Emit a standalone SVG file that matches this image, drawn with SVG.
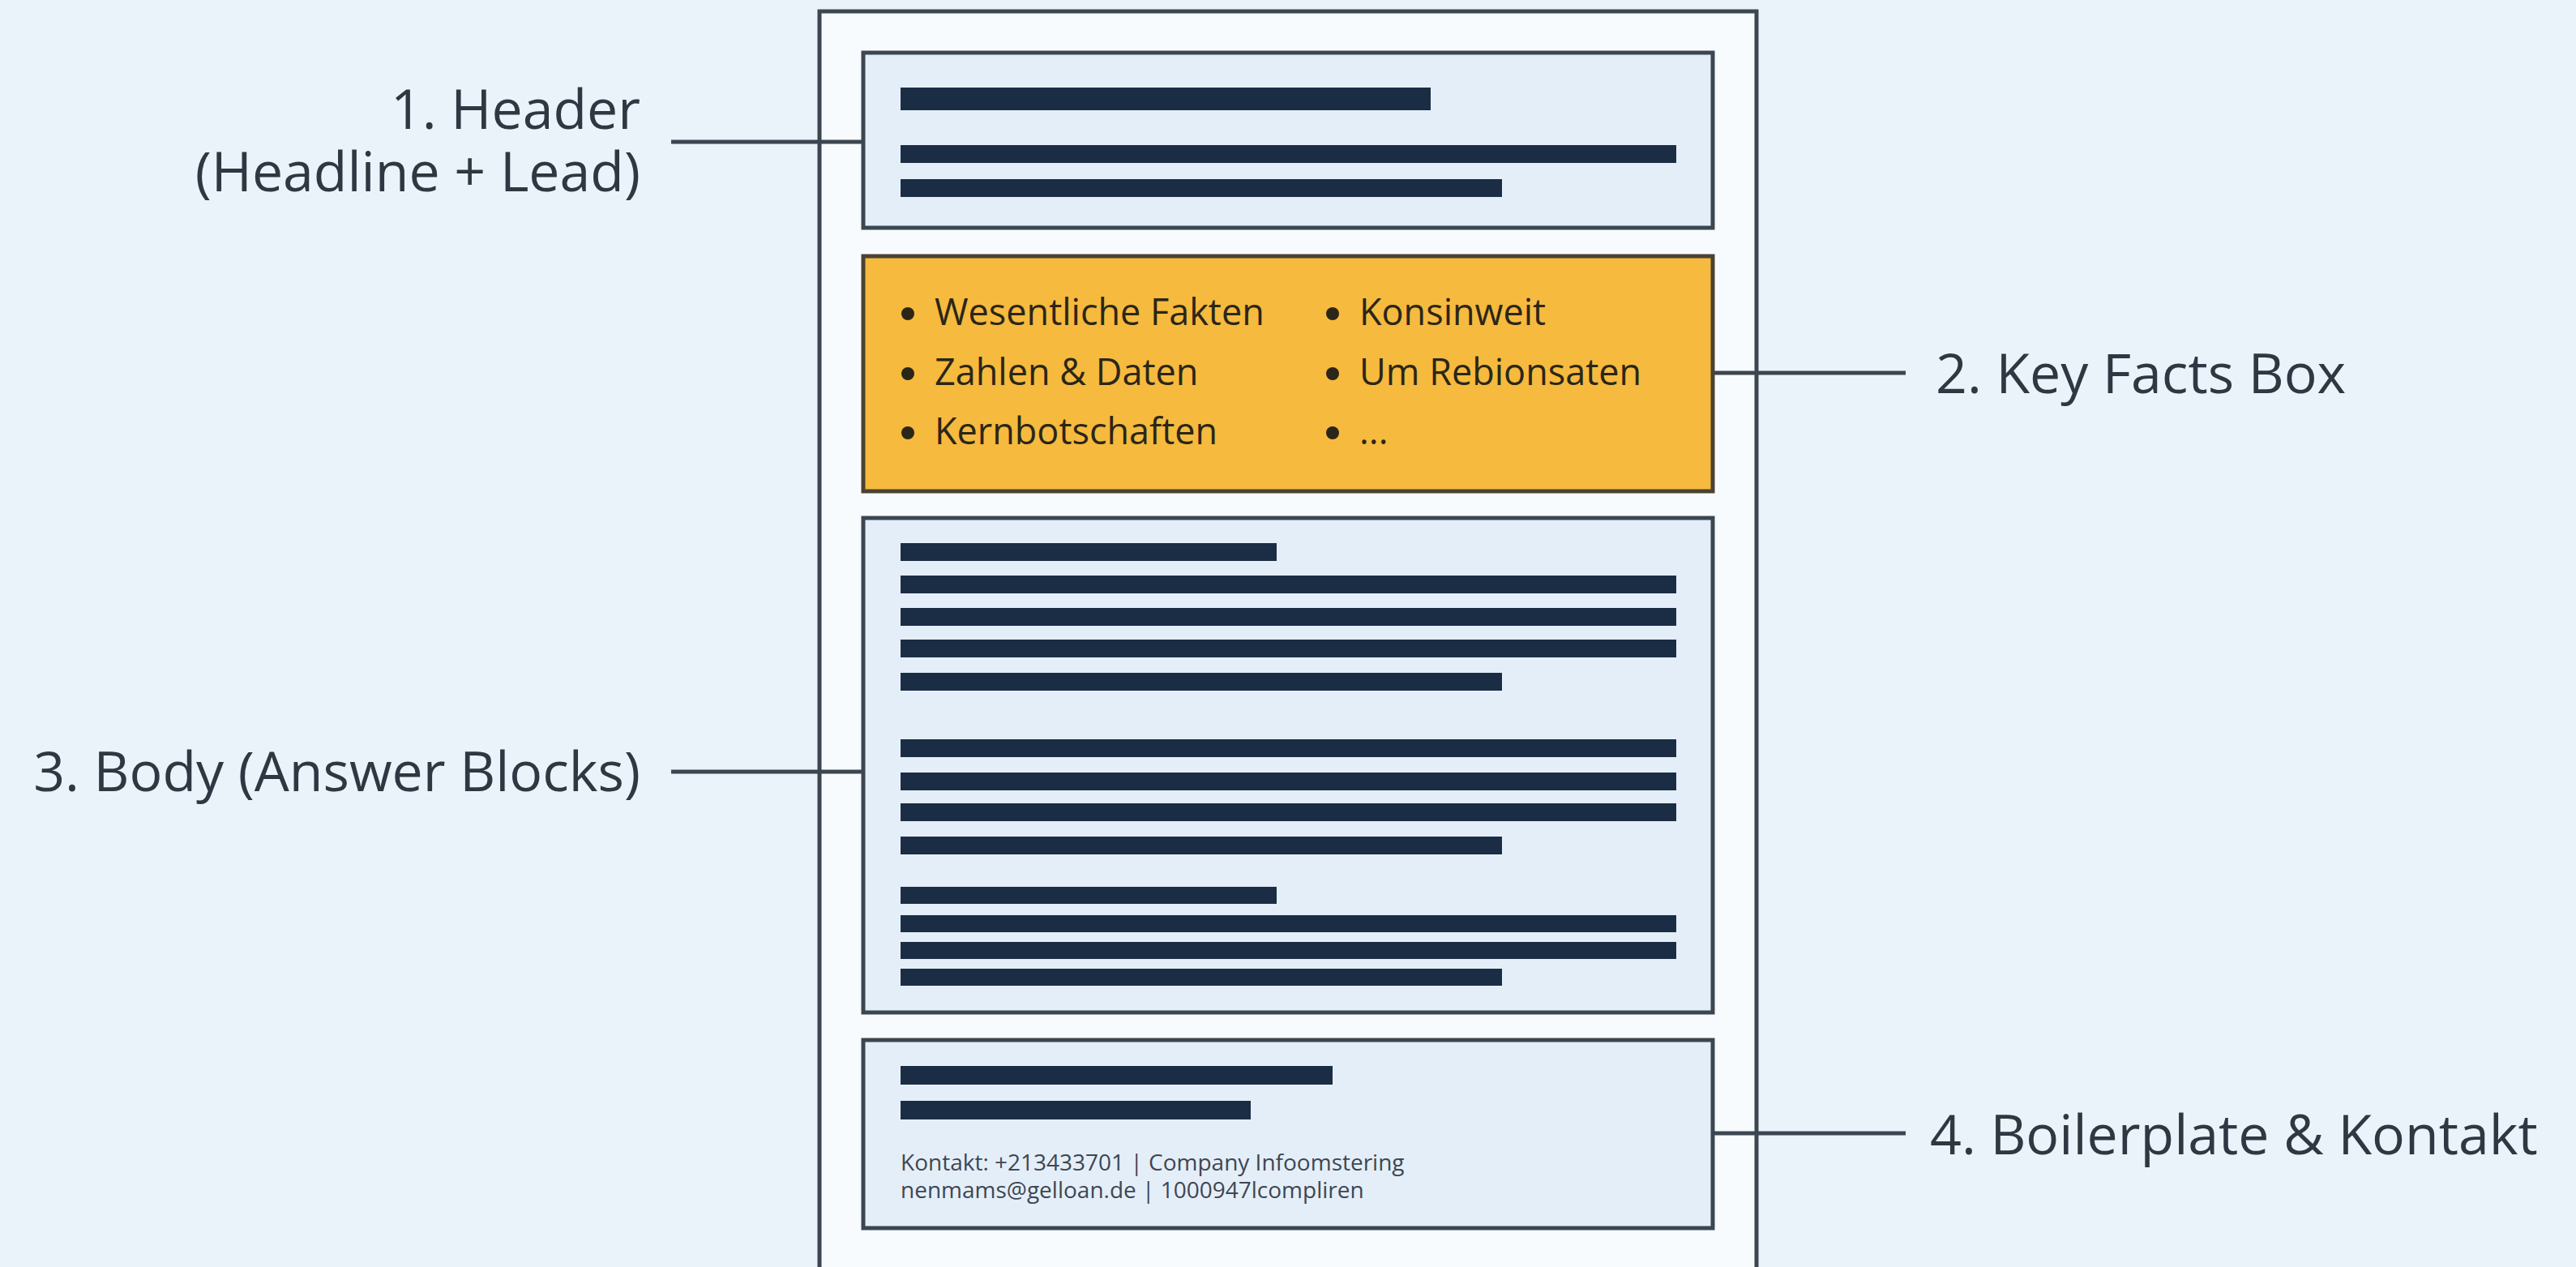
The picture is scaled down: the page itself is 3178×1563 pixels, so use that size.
<svg xmlns="http://www.w3.org/2000/svg" width="3178" height="1563" viewBox="0 0 3178 1563">
<style>
.lbl{font-family:"Open Sans","Noto Sans","Liberation Sans",sans-serif;font-size:68px;fill:#2E3842}
.item{font-family:"Open Sans","Noto Sans","Liberation Sans",sans-serif;font-size:45px;fill:#2B2618}
.small{font-family:"Open Sans","Noto Sans","Liberation Sans",sans-serif;font-size:28px;fill:#3E4752}
.box{fill:#E4EEF8;stroke:#3C4650;stroke-width:5}
.bar{fill:#1B2D44}
.conn{stroke:#3C4650;stroke-width:5;fill:none}
.dot{fill:#2B2618}
</style>
<rect x="0" y="0" width="3178" height="1563" fill="#EBF3FA"/>
<g id="page">
<rect x="1011" y="14" width="1156" height="1560" fill="#F7FBFE" stroke="#3C4650" stroke-width="5"/>
</g>
<g id="connectors">
<line class="conn" x1="828" y1="175" x2="1065" y2="175"/>
<line class="conn" x1="2113" y1="460" x2="2351" y2="460"/>
<line class="conn" x1="828" y1="952" x2="1065" y2="952"/>
<line class="conn" x1="2113" y1="1398" x2="2351" y2="1398"/>
</g>
<g id="header">
<rect class="box" x="1065" y="65" width="1048" height="216"/>
<rect class="bar" x="1111" y="108" width="654" height="28"/>
<rect class="bar" x="1111" y="179" width="957" height="22"/>
<rect class="bar" x="1111" y="221" width="742" height="22"/>
</g>
<g id="keyfacts">
<rect x="1065" y="316" width="1048" height="290" fill="#F6BA3E" stroke="#4A4232" stroke-width="5"/>
<circle class="dot" cx="1120" cy="387" r="8"/>
<text class="item" x="1153" y="401">Wesentliche Fakten</text>
<circle class="dot" cx="1120" cy="461" r="8"/>
<text class="item" x="1153" y="475">Zahlen &amp; Daten</text>
<circle class="dot" cx="1120" cy="534" r="8"/>
<text class="item" x="1153" y="548">Kernbotschaften</text>
<circle class="dot" cx="1644" cy="387" r="8"/>
<text class="item" x="1677" y="401">Konsinweit</text>
<circle class="dot" cx="1644" cy="461" r="8"/>
<text class="item" x="1677" y="475">Um Rebionsaten</text>
<circle class="dot" cx="1644" cy="534" r="8"/>
<text class="item" x="1677" y="548">...</text>
</g>
<g id="body">
<rect class="box" x="1065" y="639" width="1048" height="610"/>
<rect class="bar" x="1111" y="670" width="464" height="22"/>
<rect class="bar" x="1111" y="710" width="957" height="22"/>
<rect class="bar" x="1111" y="750" width="957" height="22"/>
<rect class="bar" x="1111" y="789" width="957" height="22"/>
<rect class="bar" x="1111" y="830" width="742" height="22"/>
<rect class="bar" x="1111" y="912" width="957" height="22"/>
<rect class="bar" x="1111" y="953" width="957" height="22"/>
<rect class="bar" x="1111" y="991" width="957" height="22"/>
<rect class="bar" x="1111" y="1032" width="742" height="22"/>
<rect class="bar" x="1111" y="1094" width="464" height="21"/>
<rect class="bar" x="1111" y="1129" width="957" height="21"/>
<rect class="bar" x="1111" y="1162" width="957" height="21"/>
<rect class="bar" x="1111" y="1195" width="742" height="21"/>
</g>
<g id="footer">
<rect class="box" x="1065" y="1283" width="1048" height="232"/>
<rect class="bar" x="1111" y="1315" width="533" height="23"/>
<rect class="bar" x="1111" y="1358" width="432" height="23"/>
<text class="small" x="1111" y="1444">Kontakt: +213433701 | Company Infoomstering</text>
<text class="small" x="1111" y="1478">nenmams@gelloan.de | 1000947lcompliren</text>
</g>
<g id="label1">
<text class="lbl" x="790" y="159" text-anchor="end">1. Header</text>
<text class="lbl" x="790" y="236" text-anchor="end">(Headline + Lead)</text>
</g>
<g id="label2">
<text class="lbl" x="2388" y="485">2. Key Facts Box</text>
</g>
<g id="label3">
<text class="lbl" x="790" y="976" text-anchor="end">3. Body (Answer Blocks)</text>
</g>
<g id="label4">
<text class="lbl" x="2381" y="1424">4. Boilerplate &amp; Kontakt</text>
</g>
</svg>
